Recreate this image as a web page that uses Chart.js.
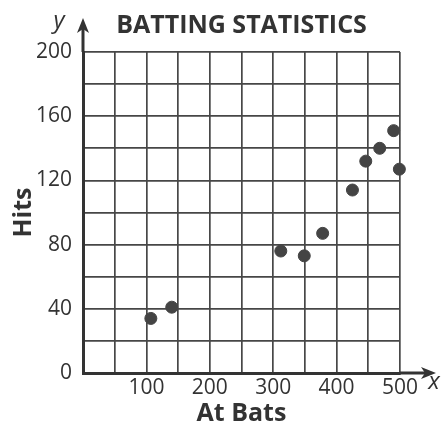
<!DOCTYPE html>
<html>
<head>
<meta charset="utf-8">
<script src="https://cdn.jsdelivr.net/npm/chart.js@4/dist/chart.umd.min.js"></script>
<style>
html,body{margin:0;padding:0;background:#fff;}
#wrap{width:446px;height:430px;position:relative;}
</style>
</head>
<body>
<div id="wrap"><canvas id="c" width="446" height="430"></canvas></div>
<script>
const titleText = 'BATTING STATISTICS';
const xAxisTitle = 'At Bats';
const yAxisTitle = 'Hits';
const atBats = [107, 140, 312, 349, 378, 425, 446, 468, 490, 499];
const hits   = [34, 41, 76, 73, 87, 114, 132, 140, 151, 127];
const xTickLabels = [100, 200, 300, 400, 500];
const yTickLabels = [0, 40, 80, 120, 160, 200];

const ink = '#333';
const gridInk = '#474747';

const arrows = {
  id: 'arrows',
  afterDraw(chart) {
    const {ctx, chartArea: a} = chart;
    ctx.save();
    ctx.strokeStyle = ink;
    ctx.fillStyle = ink;
    ctx.lineWidth = 3;
    ctx.beginPath();
    ctx.moveTo(a.left, a.top);
    ctx.lineTo(a.left, 28);
    ctx.stroke();
    ctx.beginPath();
    ctx.moveTo(a.left, 18);
    ctx.lineTo(a.left - 6, 33);
    ctx.lineTo(a.left, 29);
    ctx.lineTo(a.left + 6, 33);
    ctx.closePath();
    ctx.fill();
    ctx.beginPath();
    ctx.moveTo(a.right, a.bottom);
    ctx.lineTo(a.right + 26, a.bottom);
    ctx.stroke();
    ctx.beginPath();
    ctx.moveTo(a.right + 36, a.bottom);
    ctx.lineTo(a.right + 21, a.bottom - 6);
    ctx.lineTo(a.right + 25, a.bottom);
    ctx.lineTo(a.right + 21, a.bottom + 6);
    ctx.closePath();
    ctx.fill();
    ctx.font = 'italic 24px "Open Sans"';
    ctx.textAlign = 'center';
    ctx.textBaseline = 'middle';
    ctx.fillText('y', a.left - 24, 21);
    ctx.fillText('x', a.right + 34, a.bottom + 9);
    ctx.restore();
  }
};

new Chart(document.getElementById('c'), {
  type: 'scatter',
  data: {
    datasets: [{
      data: atBats.map((x, i) => ({x: x, y: hits[i]})),
      backgroundColor: '#444',
      borderColor: '#444',
      pointRadius: 6,
      pointHoverRadius: 6,
      clip: false
    }]
  },
  options: {
    responsive: false,
    animation: false,
    events: [],
    layout: {padding: {left: 0, right: 46, top: 0, bottom: 0}},
    plugins: {
      legend: {display: false},
      tooltip: {enabled: false},
      title: {
        display: true,
        text: titleText,
        fullSize: false,
        color: ink,
        font: {family: 'Open Sans', size: 25, weight: 'bold', lineHeight: 1.2},
        padding: {top: 11, bottom: 11}
      }
    },
    scales: {
      x: {
        type: 'linear',
        min: 0, max: 500,
        afterFit(s) { s.height = 57; },
        afterBuildTicks(s) {
          s.ticks = [];
          for (let v = 0; v <= 500; v += 50) s.ticks.push({value: v});
        },
        ticks: {
          autoSkip: false,
          maxRotation: 0,
          padding: 2,
          color: ink,
          font: {family: 'Open Sans', size: 21},
          callback: v => xTickLabels.includes(v) ? String(v) : ''
        },
        grid: {color: gridInk, lineWidth: 1.7, drawTicks: false},
        border: {color: ink, width: 3},
        title: {
          display: true,
          text: xAxisTitle,
          color: ink,
          font: {family: 'Open Sans', size: 25, weight: 'bold', lineHeight: 1.2},
          padding: {top: 0, bottom: 1}
        }
      },
      y: {
        type: 'linear',
        min: 0, max: 200,
        afterFit(s) { s.width = 83; },
        afterBuildTicks(s) {
          s.ticks = [];
          for (let v = 0; v <= 200; v += 20) s.ticks.push({value: v});
        },
        ticks: {
          autoSkip: false,
          padding: 11,
          color: ink,
          font: {family: 'Open Sans', size: 21},
          callback: v => yTickLabels.includes(v) ? String(v) : ''
        },
        grid: {color: gridInk, lineWidth: 1.7, drawTicks: false},
        border: {color: ink, width: 3},
        title: {
          display: true,
          text: yAxisTitle,
          color: ink,
          font: {family: 'Open Sans', size: 25, weight: 'bold', lineHeight: 1.2},
          padding: {top: 9, bottom: 0}
        }
      }
    }
  },
  plugins: [arrows]
});
</script>
</body>
</html>
